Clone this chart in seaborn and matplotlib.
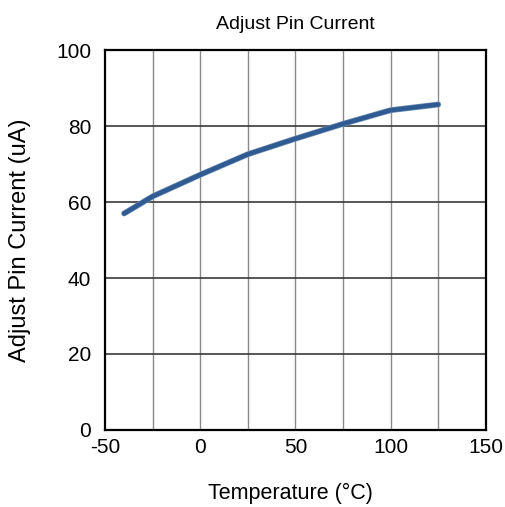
import matplotlib
matplotlib.use("Agg")
import matplotlib.pyplot as plt
import matplotlib.patheffects as pe
import seaborn as sns
import pandas as pd

temperature = [-40, -25, 0, 25, 50, 75, 100, 125]
current = [57.0, 61.5, 67.2, 72.6, 76.7, 80.6, 84.2, 85.7]
x_ticks = [-50, 0, 50, 100, 150]
y_ticks = [0, 20, 40, 60, 80, 100]

sns.set_theme(style="white")
plt.rcParams['font.family'] = ['Liberation Sans', 'DejaVu Sans']
plt.rcParams['axes.unicode_minus'] = False

df = pd.DataFrame({"Temperature": temperature, "Current": current})

fig = plt.figure(figsize=(5.05, 5.07), dpi=100)
ax = fig.add_axes([0.208, 0.152, 0.754, 0.749])

for xv in range(-25, 150, 25):
    ax.axvline(xv, color="#8a8a8a", lw=1.0, zorder=1)
for yv in [20, 40, 60, 80]:
    ax.axhline(yv, color="#3a3a3a", lw=1.2, zorder=1)

sns.lineplot(data=df, x="Temperature", y="Current", ax=ax, color="#2f5b91",
             lw=3.2, zorder=3,
             path_effects=[pe.Stroke(linewidth=4.2, foreground="#6f8fb8"), pe.Normal()])

ax.set_xlim(-50, 150)
ax.set_ylim(0, 100)
ax.set_xticks(x_ticks)
ax.set_yticks(y_ticks)
ax.tick_params(axis="both", length=0, labelsize=15, colors="black")
ax.tick_params(axis="x", pad=6)
ax.tick_params(axis="y", pad=10)
for s in ax.spines.values():
    s.set_color("black")
    s.set_linewidth(1.6)
ax.set_xlabel("Temperature (\u00b0C)", fontsize=15.5, color="black")
ax.xaxis.set_label_coords(0.487, -0.140)
ax.set_ylabel("Adjust Pin Current (uA)", fontsize=17, color="black")
ax.yaxis.set_label_coords(-0.194, 0.5)
ax.set_title("Adjust Pin Current", fontsize=14, pad=15, color="black")

fig.savefig("out.png", dpi=100)
